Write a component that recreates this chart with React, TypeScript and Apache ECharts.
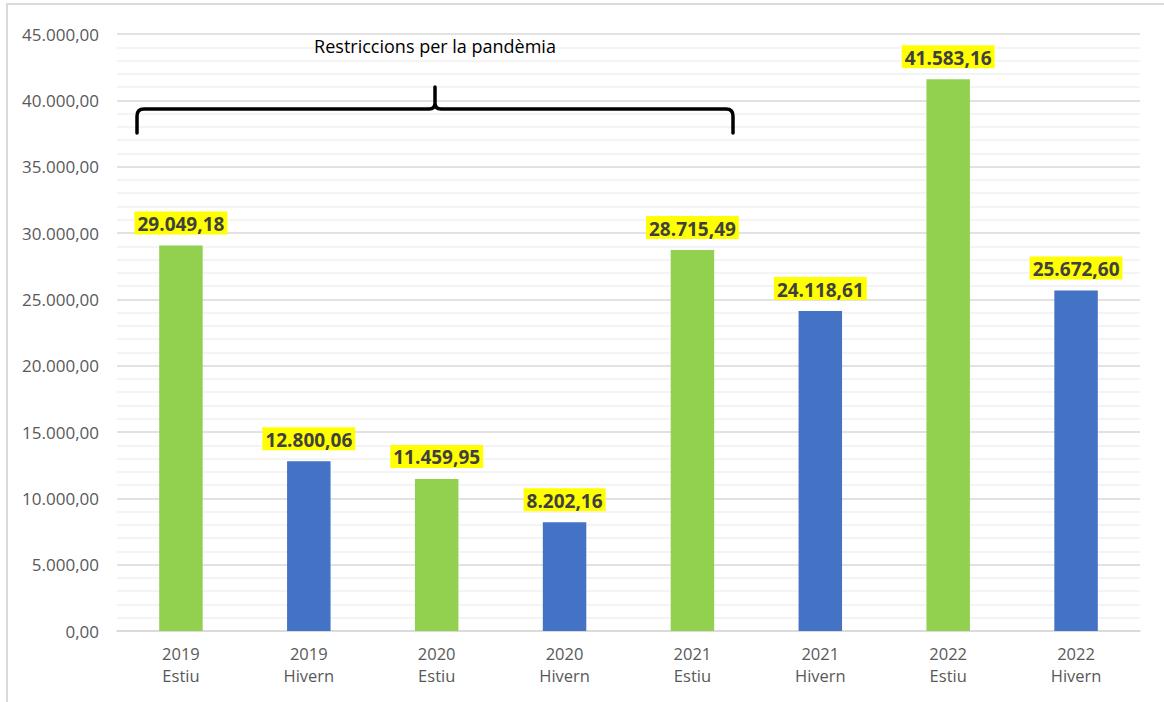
import React, { useEffect, useRef } from "react";
import * as echarts from "echarts";

// Periods: year + season
const years = ["2019", "2019", "2020", "2020", "2021", "2021", "2022", "2022"];
const seasons = ["Estiu", "Hivern", "Estiu", "Hivern", "Estiu", "Hivern", "Estiu", "Hivern"];
const values = [29049.18, 12800.06, 11459.95, 8202.16, 28715.49, 24118.61, 41583.16, 25672.6];

const seasonColors: Record<string, string> = {
  Estiu: "#92D050",
  Hivern: "#4472C4",
};

const bracketLabel = "Restriccions per la pandèmia";

const FONT = "'Open Sans', 'Noto Sans', sans-serif";

// Catalan number format: 29049.18 -> "29.049,18"
function formatCa(v: number): string {
  const [intPart, dec] = Math.abs(v).toFixed(2).split(".");
  const grouped = intPart.replace(/\B(?=(\d{3})+(?!\d))/g, ".");
  return (v < 0 ? "-" : "") + grouped + "," + dec;
}

// Curly bracket spanning the pandemic periods
const bracketPath =
  "M137 133 L137 116 Q137 109 144 109 L429 109 Q435 109 435 103 L435 87 " +
  "M435 103 Q435 109 441 109 L726 109 Q733 109 733 116 L733 133";

echarts.graphic.registerShape("bracket", echarts.graphic.extendPath(bracketPath, {}));

export default function App() {
  const ref = useRef<HTMLDivElement>(null);

  useEffect(() => {
    if (!ref.current) return;
    const chart = echarts.init(ref.current, null, { renderer: "svg" });
    const categories = years.map((y, i) => `${y}\n${seasons[i]}`);

    chart.setOption({
      animation: false,
      backgroundColor: "#ffffff",
      textStyle: { fontFamily: FONT },
      grid: { left: 117, right: 24, top: 34, bottom: 71 },
      xAxis: {
        type: "category",
        data: categories,
        axisLine: { show: true, lineStyle: { color: "#D9D9D9", width: 1.5 } },
        axisTick: { show: false },
        axisLabel: {
          color: "#595959",
          fontSize: 16.5,
          lineHeight: 22,
          margin: 11,
          fontFamily: FONT,
        },
      },
      yAxis: {
        type: "value",
        min: 0,
        max: 45000,
        interval: 5000,
        axisLine: { show: false },
        axisTick: { show: false },
        axisLabel: {
          color: "#595959",
          fontSize: 17,
          margin: 18,
          fontFamily: FONT,
          formatter: (v: number) => formatCa(v),
        },
        splitLine: { show: true, lineStyle: { color: "#D9D9D9", width: 1.5 } },
        minorTick: { show: false, splitNumber: 5 },
        minorSplitLine: { show: true, lineStyle: { color: "#F0F0F0", width: 1.5 } },
      },
      series: [
        {
          type: "bar",
          barWidth: "34%",
          data: values.map((v, i) => ({
            value: v,
            itemStyle: { color: seasonColors[seasons[i]] },
          })),
          label: {
            show: true,
            position: "top",
            distance: 11,
            formatter: (p: any) => formatCa(p.value),
            color: "#404040",
            fontWeight: "bold",
            fontSize: 19,
            fontFamily: FONT,
            backgroundColor: "#FFFF00",
            padding: [3, 3, 1, 3],
          },
        },
      ],
      graphic: [
        {
          type: "rect",
          shape: { x: 7, y: 4, width: 1200, height: 760 },
          style: { fill: "none", stroke: "#D9D9D9", lineWidth: 2 },
          silent: true,
          z: -1,
        },
        {
          type: "bracket",
          x: 0,
          y: 0,
          z: 100,
          style: { fill: "none", stroke: "#000000", lineWidth: 3.5, lineCap: "round" },
          silent: true,
        },
        {
          type: "text",
          x: 435,
          y: 46,
          z: 100,
          style: {
            text: bracketLabel,
            fill: "#000000",
            fontSize: 18,
            fontFamily: FONT,
            align: "center",
            verticalAlign: "middle",
          },
          silent: true,
        },
      ],
    });

    return () => chart.dispose();
  }, []);

  return (
    <div
      ref={ref}
      style={{ position: "absolute", left: 0, top: 0, width: 1164, height: 702 }}
    />
  );
}
